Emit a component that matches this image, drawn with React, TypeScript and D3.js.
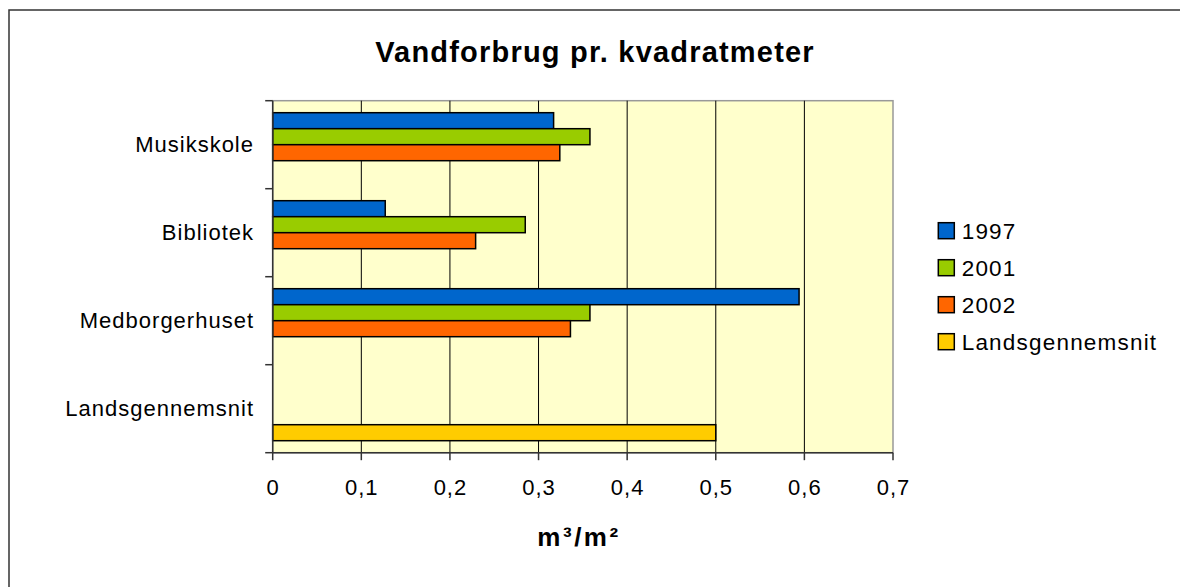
import React from "react";
import * as d3 from "d3";

const categories = ["Musikskole", "Bibliotek", "Medborgerhuset", "Landsgennemsnit"];
const seriesNames = ["1997", "2001", "2002", "Landsgennemsnit"];
const values1997 = [0.317, 0.127, 0.594, null];
const values2001 = [0.358, 0.285, 0.358, null];
const values2002 = [0.324, 0.229, 0.336, null];
const valuesAvg = [null, null, null, 0.5];
const seriesColors = ["#0066CC", "#99CC00", "#FF6600", "#FFCC00"];
const xTicks = [0, 0.1, 0.2, 0.3, 0.4, 0.5, 0.6, 0.7];
const title = "Vandforbrug pr. kvadratmeter";
const xTitle = "m³/m²";

const allSeries = [values1997, values2001, values2002, valuesAvg];

export default function App() {
  const W = 1180, H = 587;
  const left = 272.7, right = 893, top = 100.7, bottom = 452.7;
  const x = d3.scaleLinear().domain([0, 0.7]).range([left, right]);
  const y = d3.scaleBand<string>().domain(categories).range([top, bottom]).padding(0);
  const yInner = d3.scaleBand<string>().domain(seriesNames).range([0, y.bandwidth()]).paddingInner(0).paddingOuter(0.75);
  const font = "'Liberation Sans', Arial, sans-serif";
  const fmt = (v: number) => (v === 0 ? "0" : d3.format(".1f")(v).replace(".", ","));
  const bandEdges = categories.map((c) => y(c)!).concat([bottom]);

  return (
    <svg width={W} height={H} style={{ position: "absolute", left: 0, top: 0, background: "#fff" }} fontFamily={font}>
      <rect x={9} y={10} width={1300} height={700} fill="#fff" stroke="#333" strokeWidth={1.5} />
      <text x={595} y={62} textAnchor="middle" fontSize={29} fontWeight="bold" letterSpacing={1.2} fill="#000">{title}</text>
      <rect x={left} y={top} width={right - left} height={bottom - top} fill="#FFFFCC" stroke="#999" strokeWidth={1.5} />
      {xTicks.slice(1, -1).map((t) => (
        <line key={"g" + t} x1={x(t)} x2={x(t)} y1={top} y2={bottom} stroke="#000" strokeWidth={1} />
      ))}
      {allSeries.map((vals, si) =>
        vals.map((v, ci) =>
          v == null ? null : (
            <rect
              key={si + "-" + ci}
              x={x(0)}
              y={y(categories[ci])! + yInner(seriesNames[si])!}
              width={x(v) - x(0)}
              height={yInner.bandwidth()}
              fill={seriesColors[si]}
              stroke="#000"
              strokeWidth={1.5}
            />
          )
        )
      )}
      <line x1={left} x2={left} y1={top} y2={bottom} stroke="#333" strokeWidth={1.5} />
      <line x1={left} x2={right} y1={bottom} y2={bottom} stroke="#333" strokeWidth={1.5} />
      {bandEdges.map((e, i) => (
        <line key={"yt" + i} x1={left - 7.5} x2={left} y1={e} y2={e} stroke="#333" strokeWidth={1.5} />
      ))}
      {xTicks.map((t) => (
        <line key={"xt" + t} x1={x(t)} x2={x(t)} y1={bottom} y2={bottom + 7.5} stroke="#333" strokeWidth={1.5} />
      ))}
      {categories.map((c) => (
        <text key={"yl" + c} x={254} y={y(c)! + y.bandwidth() / 2} dy="0.35em" textAnchor="end" fontSize={22} letterSpacing={1} fill="#000">{c}</text>
      ))}
      {xTicks.map((t) => (
        <text key={"xl" + t} x={x(t) + 0.5} y={495} textAnchor="middle" fontSize={22} letterSpacing={1} fill="#000">{fmt(t)}</text>
      ))}
      <text x={579} y={546} textAnchor="middle" fontSize={26} fontWeight="bold" letterSpacing={2.5} fill="#000">{xTitle}</text>
      {seriesNames.map((s, i) => (
        <g key={"lg" + s} transform={`translate(938.3, ${222.7 + i * 37})`}>
          <rect x={0} y={0} width={16} height={16} fill={seriesColors[i]} stroke="#000" strokeWidth={1.5} />
          <text x={23.4} y={8} dy="0.36em" fontSize={22.5} letterSpacing={1.2} fill="#000">{s}</text>
        </g>
      ))}
    </svg>
  );
}
